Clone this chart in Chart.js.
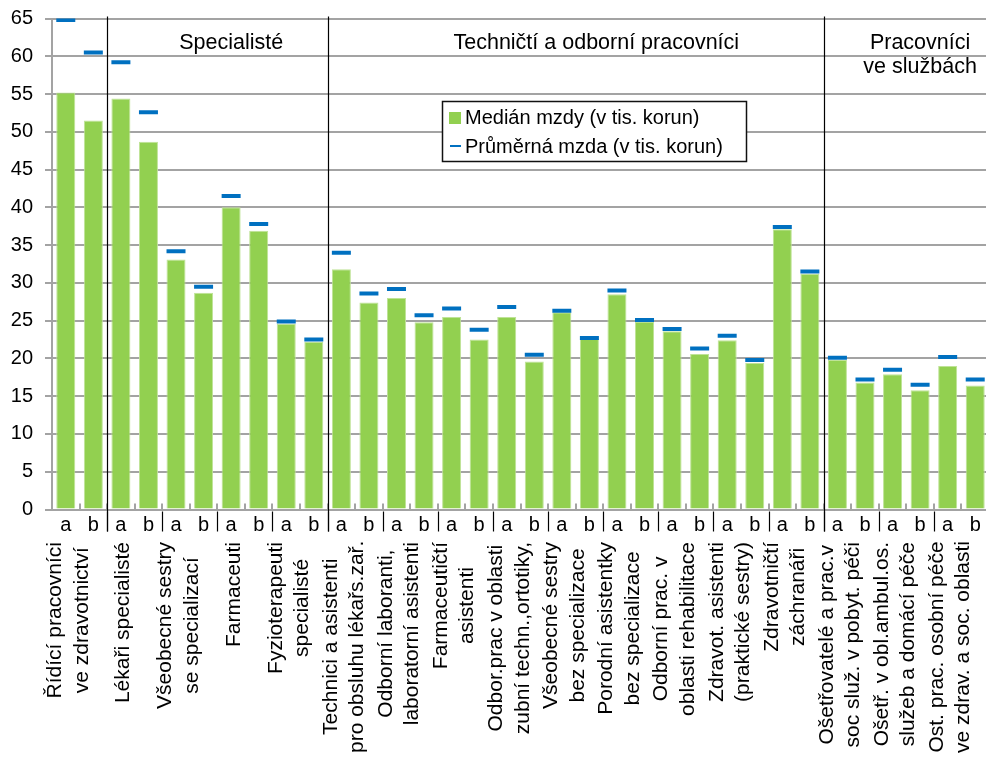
<!DOCTYPE html>
<html>
<head>
<meta charset="utf-8">
<script src="https://cdn.jsdelivr.net/npm/chart.js@4/dist/chart.umd.min.js"></script>
<style>
  html, body { margin: 0; padding: 0; overflow: hidden; background: #fff; }
  #wrap { width: 989px; height: 758px; }
</style>
</head>
<body>
<div id="wrap"><canvas id="wageChart" width="989" height="758"></canvas></div>
<script>
// skupiny povolání (popisky osy x, po řádcích)
const groupLabels = [
    ['Řídící pracovníci', 've zdravotnictví'],
    ['Lékaři specialisté'],
    ['Všeobecné sestry', 'se specializací'],
    ['Farmaceuti'],
    ['Fyzioterapeuti', 'specialisté'],
    ['Technici a asistenti', 'pro obsluhu lékařs.zař.'],
    ['Odborní laboranti,', 'laboratorní asistenti'],
    ['Farmaceutičtí', 'asistenti'],
    ['Odbor.prac v oblasti', 'zubní techn.,ortotiky,'],
    ['Všeobecné sestry', 'bez specializace'],
    ['Porodní asistentky', 'bez specializace'],
    ['Odborní prac. v', 'oblasti rehabilitace'],
    ['Zdravot. asistenti', '(praktické sestry)'],
    ['Zdravotničtí', 'záchranáři'],
    ['Ošetřovatelé a prac.v', 'soc služ. v pobyt. péči'],
    ['Ošetř. v obl.ambul.os.', 'služeb a domácí péče'],
    ['Ost. prac. osobní péče', 've zdrav. a soc. oblasti']
];
const subLabels = ['a', 'b'];

// hlavní třídy a index první skupiny v každé z nich
const sectionNames = [['Specialisté'], ['Techničtí a odborní pracovníci'], ['Pracovníci', 've službách']];
const sectionStarts = [1, 5, 14];

const yTicks = [0, 5, 10, 15, 20, 25, 30, 35, 40, 45, 50, 55, 60, 65];

// medián a průměr (v tis. Kč), pořadí a, b pro každou skupinu
const medians = [55.2, 51.5, 54.4, 48.7, 33.1, 28.7, 40.0, 36.9, 24.6, 22.2,
                 31.8, 27.4, 28.0, 24.8, 25.5, 22.5, 25.5, 19.6, 26.1, 22.6,
                 28.5, 24.9, 23.6, 20.6, 22.4, 19.4, 37.1, 31.2,
                 19.8, 16.8, 17.9, 15.8, 19.0, 16.4];
const averages = [64.8, 60.5, 59.2, 52.6, 34.2, 29.5, 41.5, 37.8, 24.9, 22.5,
                  34.0, 28.6, 29.2, 25.7, 26.6, 23.8, 26.8, 20.5, 26.3, 22.7,
                  29.0, 25.1, 23.9, 21.3, 23.0, 19.8, 37.4, 31.5,
                  20.1, 17.2, 18.5, 16.5, 20.2, 17.2];

const FONT = '"Liberation Sans", Arial, sans-serif';
const GREEN = '#92D050';
const BLUE = '#0070C0';
const GRID = '#a3a3a3';

const categories = [];
groupLabels.forEach(() => subLabels.forEach(s => categories.push(s)));

// popisky, oddělovače a legenda
const overlayPlugin = {
    id: 'overlay',
    afterDraw(chart) {
        const ctx = chart.ctx;
        const x = chart.scales.x;
        const area = chart.chartArea;
        const step = x.getPixelForValue(1) - x.getPixelForValue(0);
        const edge = i => x.getPixelForValue(i) - step / 2;
        ctx.save();

        // vnitřní značky na ose x
        ctx.strokeStyle = GRID;
        ctx.lineWidth = 2;
        for (let i = 1; i < categories.length; i++) {
            const px = Math.round(edge(i));
            ctx.beginPath();
            ctx.moveTo(px, area.bottom - 6);
            ctx.lineTo(px, area.bottom);
            ctx.stroke();
        }

        // oddělovače skupin pod osou
        ctx.strokeStyle = '#000';
        ctx.lineWidth = 1.2;
        for (let g = 1; g < groupLabels.length; g++) {
            const px = Math.round(edge(g * 2)) + 0.5;
            ctx.beginPath();
            ctx.moveTo(px, area.bottom + 2);
            ctx.lineTo(px, area.bottom + 22);
            ctx.stroke();
        }

        // svislé čáry mezi třídami
        sectionStarts.forEach(g => {
            const px = Math.round(edge(g * 2)) + 0.5;
            ctx.beginPath();
            ctx.moveTo(px, area.top - 2);
            ctx.lineTo(px, area.bottom + 22);
            ctx.stroke();
        });

        // názvy tříd
        ctx.fillStyle = '#000';
        ctx.font = '21.5px ' + FONT;
        ctx.textAlign = 'center';
        ctx.textBaseline = 'alphabetic';
        const sectionCenters = [6, 19.25, 31];
        sectionNames.forEach((lines, s) => {
            const cx = x.getPixelForValue(sectionCenters[s]);
            lines.forEach((line, k) => ctx.fillText(line, cx, 48.5 + k * 24));
        });

        // svislé popisky skupin
        ctx.font = '21px ' + FONT;
        ctx.textBaseline = 'middle';
        groupLabels.forEach((lines, g) => {
            const gc = (x.getPixelForValue(g * 2) + x.getPixelForValue(g * 2 + 1)) / 2;
            const bc = gc - 11;
            const len = Math.max(...lines.map(l => ctx.measureText(l).width));
            const cy = Math.min(542 + len / 2, 753 - len / 2);
            lines.forEach((line, i) => {
                const lx = bc + (i - (lines.length - 1) / 2) * 26.5;
                ctx.save();
                ctx.translate(lx, cy);
                ctx.rotate(-Math.PI / 2);
                ctx.fillText(line, 0, 0);
                ctx.restore();
            });
        });

        // legenda
        ctx.fillStyle = '#fff';
        ctx.fillRect(442, 101, 305, 61);
        ctx.strokeStyle = '#111';
        ctx.lineWidth = 1.5;
        ctx.strokeRect(442.5, 101.5, 304, 60);
        ctx.fillStyle = GREEN;
        ctx.fillRect(449, 112, 12, 12);
        ctx.strokeStyle = BLUE;
        ctx.lineWidth = 2;
        ctx.beginPath();
        ctx.moveTo(450, 146);
        ctx.lineTo(461, 146);
        ctx.stroke();
        ctx.fillStyle = '#000';
        ctx.font = '20px ' + FONT;
        ctx.textAlign = 'left';
        ctx.textBaseline = 'alphabetic';
        ctx.fillText('Medián mzdy (v tis. korun)', 465, 123.5);
        ctx.fillText('Průměrná mzda (v tis. korun)', 465, 152.5);

        ctx.restore();
    }
};

const ctx = document.getElementById('wageChart').getContext('2d');
const wageChart = new Chart(ctx, {
    type: 'bar',
    data: {
        labels: categories,
        datasets: [
            {
                type: 'line',
                label: 'Průměrná mzda (v tis. korun)',
                data: averages,
                showLine: false,
                pointStyle: 'line',
                pointRadius: 9.5,
                pointHoverRadius: 9.5,
                pointBorderWidth: 4,
                pointBorderColor: BLUE,
                borderColor: BLUE,
                order: 0
            },
            {
                label: 'Medián mzdy (v tis. korun)',
                data: medians,
                backgroundColor: GREEN,
                borderColor: '#bfe397',
                borderWidth: 1,
                barPercentage: 0.69,
                categoryPercentage: 1,
                order: 1
            }
        ]
    },
    options: {
        responsive: false,
        animation: false,
        layout: {
            autoPadding: false,
            padding: { top: 18.5, right: 0, left: 0, bottom: 0 }
        },
        plugins: {
            legend: { display: false },
            tooltip: { enabled: false }
        },
        scales: {
            x: {
                grid: { display: false },
                border: { display: false },
                ticks: {
                    autoSkip: false,
                    maxRotation: 0,
                    padding: -4,
                    color: '#000',
                    font: { family: FONT, size: 20 }
                },
                afterFit(scale) {
                    scale.height = 248.5;
                    scale.paddingLeft = 0;
                    scale.paddingRight = 0;
                }
            },
            y: {
                min: 0,
                max: 65,
                afterBuildTicks(scale) { scale.ticks = yTicks.map(v => ({ value: v })); },
                grid: { color: GRID, lineWidth: 2, tickLength: 7, tickColor: GRID },
                border: { color: GRID, width: 2 },
                ticks: {
                    padding: 12,
                    color: '#000',
                    font: { family: FONT, size: 20, lineHeight: 1 }
                },
                afterFit(scale) {
                    scale.width = 52;
                    scale.paddingTop = 0;
                }
            }
        }
    },
    plugins: [overlayPlugin]
});
</script>
</body>
</html>
